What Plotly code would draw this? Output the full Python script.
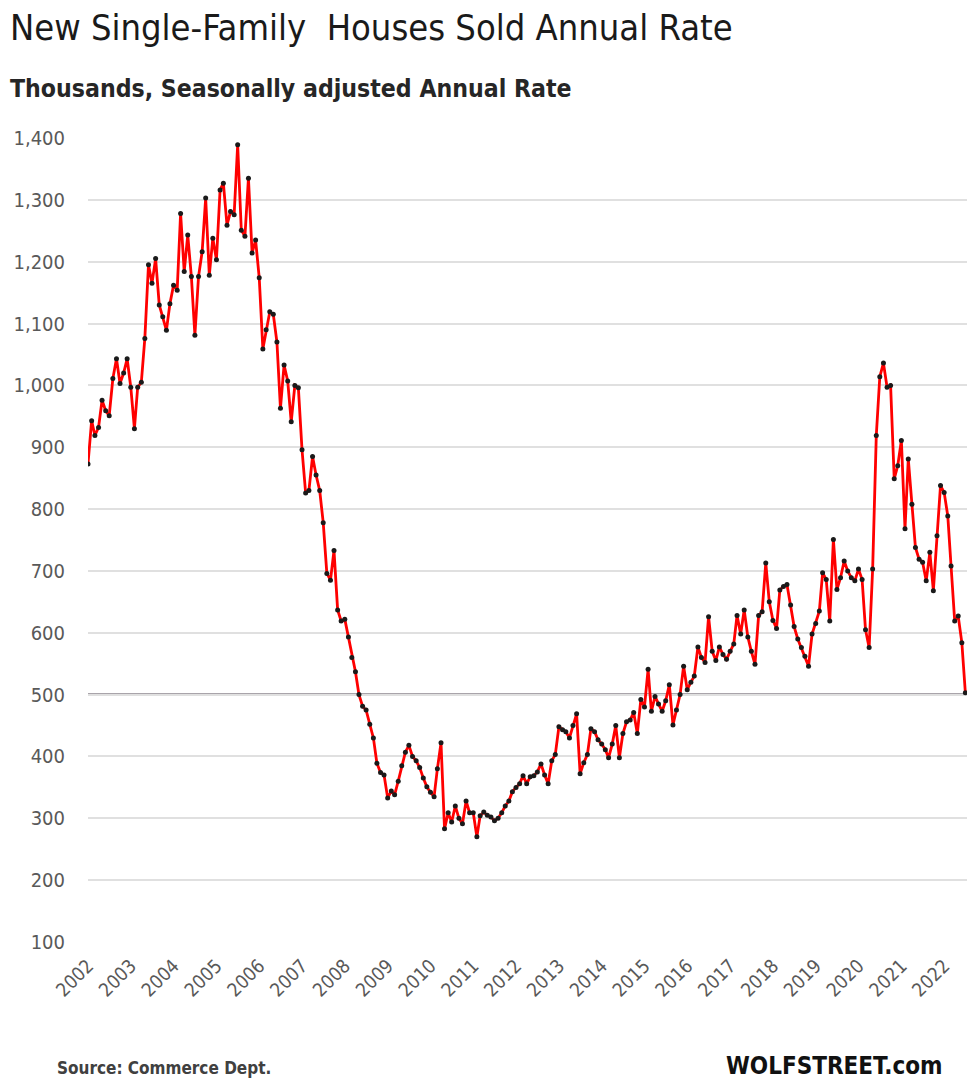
import pandas as pd
import plotly.graph_objects as go

# New single-family houses sold, thousands, SAAR, monthly Jan 2002 - Jul 2022
sales_2002 = [873, 943, 919, 932, 976, 959, 951, 1011, 1043, 1003, 1020, 1043]
sales_2003 = [997, 930, 997, 1005, 1076, 1195, 1165, 1205, 1130, 1111, 1089, 1132]
sales_2004 = [1162, 1154, 1278, 1184, 1243, 1176, 1081, 1176, 1216, 1303, 1178, 1238]
sales_2005 = [1203, 1316, 1327, 1259, 1281, 1276, 1389, 1251, 1241, 1335, 1214, 1235]
sales_2006 = [1174, 1059, 1090, 1119, 1115, 1070, 963, 1033, 1007, 941, 1000, 996]
sales_2007 = [896, 826, 830, 885, 855, 830, 778, 696, 685, 733, 637, 619]
sales_2008 = [622, 593, 560, 537, 500, 481, 475, 452, 430, 389, 374, 370]
sales_2009 = [333, 344, 338, 360, 385, 407, 418, 400, 393, 382, 365, 351]
sales_2010 = [342, 335, 380, 422, 283, 309, 294, 320, 300, 291, 328, 309]
sales_2011 = [309, 270, 304, 310, 305, 302, 296, 300, 309, 320, 328, 343]
sales_2012 = [350, 356, 369, 356, 367, 369, 375, 388, 370, 356, 393, 403]
sales_2013 = [448, 443, 440, 430, 450, 469, 372, 390, 403, 445, 440, 427]
sales_2014 = [420, 411, 398, 420, 450, 398, 437, 456, 459, 471, 437, 492]
sales_2015 = [480, 541, 473, 497, 485, 473, 490, 516, 451, 475, 500, 546]
sales_2016 = [508, 520, 530, 577, 560, 552, 626, 570, 555, 577, 565, 557]
sales_2017 = [570, 582, 628, 598, 637, 593, 570, 549, 628, 634, 713, 650]
sales_2018 = [620, 607, 669, 675, 678, 645, 610, 590, 576, 562, 546, 598]
sales_2019 = [615, 635, 697, 686, 619, 751, 670, 689, 716, 700, 689, 684]
sales_2020 = [703, 686, 605, 576, 703, 919, 1014, 1036, 997, 1000, 849, 870]
sales_2021 = [911, 768, 881, 808, 738, 719, 714, 684, 730, 668, 757, 838]
sales_2022 = [827, 789, 708, 619, 627, 584, 503]

sales = (sales_2002 + sales_2003 + sales_2004 + sales_2005 + sales_2006
         + sales_2007 + sales_2008 + sales_2009 + sales_2010 + sales_2011
         + sales_2012 + sales_2013 + sales_2014 + sales_2015 + sales_2016
         + sales_2017 + sales_2018 + sales_2019 + sales_2020 + sales_2021
         + sales_2022)
months = pd.date_range("2002-01-01", periods=len(sales), freq="MS")

years = [str(y) for y in range(2002, 2023)]
year_ticks = [f"{y}-01-01" for y in years]
y_ticks = list(range(100, 1401, 100))

FONT = "Liberation Sans Narrow, DejaVu Sans Condensed, Roboto Condensed, Roboto, sans-serif"

fig = go.Figure()

fig.add_trace(go.Scatter(x=months, y=sales, mode="lines+markers",
                         line=dict(color="#ff0000", width=2.8),
                         marker=dict(color="#1a1a1a", size=5),
                         showlegend=False))

# darker reference line at 500
fig.add_hline(y=500, line=dict(color="#a9a4aa", width=3), layer="below")

fig.update_layout(
    width=967, height=1088,
    margin=dict(l=88, r=0, t=138, b=146),
    paper_bgcolor="white", plot_bgcolor="white",
    font=dict(family=FONT, color="#595959"),
    xaxis=dict(type="date", range=["2002-01-01", "2022-07-15"],
               tickvals=year_ticks, ticktext=years, tickangle=-45,
               tickfont=dict(size=19, color="#595959"),
               showgrid=False, zeroline=False, showline=False,
               ticklabelstandoff=8),
    yaxis=dict(range=[100, 1400], tickvals=y_ticks, tickformat=",",
               tickfont=dict(size=20, color="#595959"),
               gridcolor="#e0e0e0", gridwidth=2, zeroline=False,
               ticklabelstandoff=22),
    annotations=[
        dict(text="New Single-Family  Houses Sold Annual Rate",
             xref="paper", yref="paper", x=-0.091, y=1.165, xanchor="left", yanchor="top",
             showarrow=False, font=dict(size=36, color="#1a1a1a")),
        dict(text="<b>Thousands, Seasonally adjusted Annual Rate</b>",
             xref="paper", yref="paper", x=-0.091, y=1.062, xanchor="left", yanchor="middle",
             showarrow=False, font=dict(size=24.6, color="#262626")),
        dict(text="<b>Source: Commerce Dept.</b>",
             xref="paper", yref="paper", x=-0.0375, y=-0.157, xanchor="left", yanchor="middle",
             showarrow=False, font=dict(size=17, color="#404040")),
        dict(text="<b>WOLFSTREET.com</b>",
             xref="paper", yref="paper", x=0.975, y=-0.154, xanchor="right", yanchor="middle",
             showarrow=False, font=dict(size=24, color="#111111")),
    ],
)

fig.write_html("out.html", config={"displayModeBar": False},
               post_script="document.body.style.margin='0';"
                           "document.body.style.overflow='hidden';")
